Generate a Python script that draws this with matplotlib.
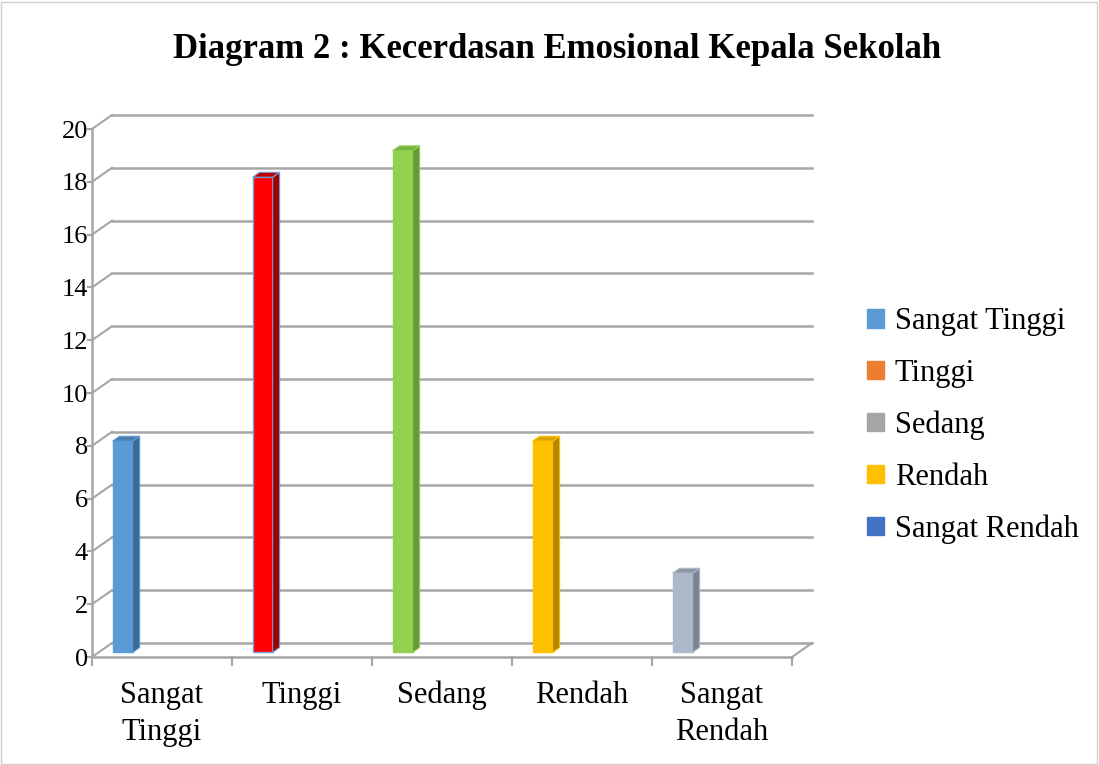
import matplotlib.pyplot as plt
from matplotlib.patches import Polygon, Patch, Rectangle

categories = ["Sangat\nTinggi", "Tinggi", "Sedang", "Rendah", "Sangat\nRendah"]
values = [8, 18, 19, 8, 3]
front_colors = ["#5b9bd5", "#ff0000", "#92d050", "#ffc000", "#adb9ca"]
side_colors = ["#3d6a94", "#a30000", "#66993a", "#b38700", "#7b8592"]
top_colors = ["#4a7fb0", "#c00000", "#7ab443", "#d9a300", "#8c97a6"]
legend_labels = ["Sangat Tinggi", "Tinggi", "Sedang", "Rendah", "Sangat Rendah"]
legend_colors = ["#5b9bd5", "#ed7d31", "#a5a5a5", "#ffc000", "#4472c4"]
yticks = list(range(0, 21, 2))

plt.rcParams['font.family'] = ['Liberation Serif', 'DejaVu Serif']

fig = plt.figure(figsize=(10.99, 7.65), dpi=100)
ax = fig.add_axes([92 / 1099, (765 - 657) / 765, 700 / 1099, 528 / 765])
ax.set_xlim(0, 5)
ax.set_ylim(0, 20)
for s in ax.spines.values():
    s.set_visible(False)

# depth of the 3d box in data units
dx, dy = 0.143, 0.53
grid = "#a6a6a6"

# back wall gridlines + left diagonals
for v in yticks:
    ax.plot([dx, 5 + dx], [v + dy, v + dy], color=grid, lw=1.8, clip_on=False, zorder=1)
    ax.plot([0, dx], [v, v + dy], color=grid, lw=1.5, clip_on=False, zorder=1)
    ax.plot([-0.03, 0], [v, v], color=grid, lw=1.5, clip_on=False, zorder=1)
ax.plot([0, 0], [0, 20], color=grid, lw=1.8, clip_on=False, zorder=1)
ax.plot([0, 5], [0, 0], color=grid, lw=1.8, clip_on=False, zorder=1)
ax.plot([5, 5 + dx], [0, dy], color=grid, lw=1.5, clip_on=False, zorder=1)
for i in range(6):
    ax.plot([i, i], [0, -0.3], color=grid, lw=1.5, clip_on=False, zorder=1)

# bars with a little 3d side and top
f, d = 0.33, 0.35
w = 0.143
for i, v in enumerate(values):
    x0 = i + 0.10 + f * dx
    b0 = f * dy
    ec = "#6fa0dc" if i == 1 else front_colors[i]
    ax.bar(x0, v, width=w, bottom=b0, align="edge", color=front_colors[i],
           edgecolor=ec, lw=1, zorder=3, clip_on=False)
    sx, sy = d * dx, d * dy
    side = Polygon([(x0 + w, b0), (x0 + w + sx, b0 + sy), (x0 + w + sx, b0 + v + sy), (x0 + w, b0 + v)],
                   closed=True, facecolor=side_colors[i], edgecolor=ec, lw=0.8, zorder=3, clip_on=False)
    top = Polygon([(x0, b0 + v), (x0 + sx, b0 + v + sy), (x0 + w + sx, b0 + v + sy), (x0 + w, b0 + v)],
                  closed=True, facecolor=top_colors[i], edgecolor=ec, lw=0.8, zorder=3, clip_on=False)
    ax.add_patch(side)
    ax.add_patch(top)

ax.set_yticks(yticks)
ax.set_yticklabels([str(t) for t in yticks], fontsize=19)
ax.tick_params(axis="y", length=0, pad=3)
ax.set_xticks([i + 0.5 for i in range(5)])
ax.set_xticklabels(categories, fontsize=22, linespacing=1.4)
ax.tick_params(axis="x", length=0, pad=17)

fig.text(0.507, 0.935, "Diagram 2 : Kecerdasan Emosional Kepala Sekolah",
         ha="center", va="center", fontsize=25, fontweight="bold")

handles = [Patch(facecolor=c, edgecolor=c) for c in legend_colors]
fig.legend(handles, legend_labels, loc="upper left", bbox_to_anchor=(855 / 1099, 1 - 295 / 765),
           frameon=False, fontsize=22, handlelength=0.55, handleheight=0.55,
           handletextpad=0.35, labelspacing=0.74, borderaxespad=0)

fig.patches.append(Rectangle((0.001, 0.001), 0.997, 0.997, transform=fig.transFigure,
                             fill=False, edgecolor="#d0d0d0", lw=1))

fig.savefig("out.png", dpi=100)
